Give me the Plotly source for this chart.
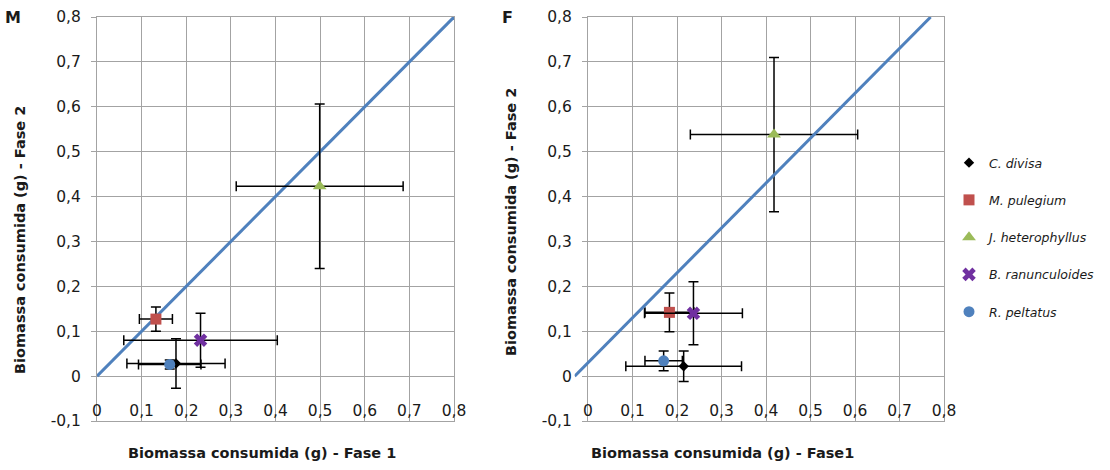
import plotly.graph_objects as go

W, H = 1110, 470

# ---------------- data ----------------
species = ["C. divisa", "M. pulegium", "J. heterophyllus", "B. ranunculoides", "R. peltatus"]
symbols = ["diamond", "square", "triangle-up", "x", "circle"]
colors = ["#000000", "#C0504D", "#9BBB59", "#7030A0", "#4F81BD"]
sizes = [8, 11, 12, 12, 11]

# Panel M (Fase 1 vs Fase 2)
m_x = [0.177, 0.132, 0.499, 0.232, 0.163]
m_y = [0.028, 0.127, 0.423, 0.080, 0.026]
m_ex = [0.110, 0.037, 0.187, 0.172, 0.070]
m_ey = [0.055, 0.027, 0.183, 0.060, 0.010]

# Panel F
f_x = [0.215, 0.183, 0.418, 0.237, 0.170]
f_y = [0.022, 0.142, 0.538, 0.140, 0.034]
f_ex = [0.130, 0.055, 0.188, 0.110, 0.042]
f_ey = [0.034, 0.043, 0.172, 0.070, 0.022]

# reference lines
diag_m_x = [0.0, 0.8]
diag_m_y = [0.0, 0.8]
diag_f_x = [-0.03, 0.77]
diag_f_y = [0.0, 0.8]

x_ticks = [0, 0.1, 0.2, 0.3, 0.4, 0.5, 0.6, 0.7, 0.8]
x_tick_labels = ["0", "0,1", "0,2", "0,3", "0,4", "0,5", "0,6", "0,7", "0,8"]
y_ticks = [-0.1, 0, 0.1, 0.2, 0.3, 0.4, 0.5, 0.6, 0.7, 0.8]
y_tick_labels = ["-0,1", "0", "0,1", "0,2", "0,3", "0,4", "0,5", "0,6", "0,7", "0,8"]

# ---------------- layout helpers ----------------
def px(v):
    return v / W

def py(v):
    return 1 - v / H

FONT = "DejaVu Sans"
GRID = "#a3a3a3"
TXT = "#1a1a1a"
DIAG = "#4F81BD"

m_dom = [px(97), px(454)]
f_dom = [px(588), px(944)]
y_dom = [py(421), py(17)]

fig = go.Figure()

# diagonal lines
fig.add_trace(go.Scatter(x=diag_m_x, y=diag_m_y, mode="lines", xaxis="x", yaxis="y",
                         line=dict(color=DIAG, width=3), showlegend=False, hoverinfo="skip"))

def add_panel(xs, ys, exs, eys, xa, ya, legend):
    for i, name in enumerate(species):
        fig.add_trace(go.Scatter(
            x=[xs[i]], y=[ys[i]], mode="markers", name=name,
            xaxis=xa, yaxis=ya, legendgroup=name, showlegend=legend,
            marker=dict(symbol=symbols[i], color=colors[i], size=sizes[i], line=dict(width=0)),
            error_x=dict(type="data", array=[exs[i]], color="#000000", thickness=1.5, width=5),
            error_y=dict(type="data", array=[eys[i]], color="#000000", thickness=1.5, width=5),
        ))

add_panel(m_x, m_y, m_ex, m_ey, "x", "y", False)
add_panel(f_x, f_y, f_ex, f_ey, "x2", "y2", True)

fig.add_trace(go.Scatter(x=diag_f_x, y=diag_f_y, mode="lines", xaxis="x3", yaxis="y3",
                         line=dict(color=DIAG, width=3), showlegend=False, hoverinfo="skip"))

xrange = [0, 0.8]
yrange = [-0.1, 0.8]

# overlay axis for the F diagonal, same scale as x2 but starting further left
scale = (f_dom[1] - f_dom[0]) / (xrange[1] - xrange[0])
x3_range = [min(diag_f_x), xrange[1]]
x3_dom = [f_dom[0] - (xrange[0] - x3_range[0]) * scale, f_dom[1]]

TICK_SIZE = 15.5

def xaxis(dom, anchor):
    return dict(domain=dom, range=xrange, anchor=anchor, tickmode="array",
                tickvals=x_ticks, ticktext=x_tick_labels, showgrid=True,
                gridcolor=GRID, gridwidth=1, showline=True, mirror=True,
                linecolor=GRID, linewidth=1, ticks="", zeroline=False,
                automargin=False, ticklabelstandoff=-25,
                tickfont=dict(family=FONT, size=TICK_SIZE, color=TXT))

def yaxis(anchor):
    return dict(domain=y_dom, range=yrange, anchor=anchor, tickmode="array",
                tickvals=y_ticks, ticktext=y_tick_labels, showgrid=True,
                gridcolor=GRID, gridwidth=1, showline=True, mirror=True,
                linecolor=GRID, linewidth=1, ticks="outside", ticklen=5,
                tickcolor=GRID, zeroline=False, ticklabelstandoff=7,
                automargin=False,
                tickfont=dict(family=FONT, size=TICK_SIZE, color=TXT))

title_font = dict(family=FONT, size=14.5, color=TXT)

def note(text, x, y, size=None, angle=0):
    f = dict(title_font)
    if size:
        f["size"] = size
    return dict(text=text, x=px(x), y=py(y), xref="paper", yref="paper",
                xanchor="center", yanchor="middle", showarrow=False,
                textangle=angle, font=f)

fig.update_layout(
    width=W, height=H,
    margin=dict(l=0, r=0, t=0, b=0, autoexpand=False),
    paper_bgcolor="white",
    plot_bgcolor="rgba(0,0,0,0)",
    xaxis=xaxis(m_dom, "y"),
    yaxis=yaxis("x"),
    xaxis2=xaxis(f_dom, "y2"),
    yaxis2=yaxis("x2"),
    xaxis3=dict(domain=x3_dom, range=x3_range, anchor="y3", visible=False),
    yaxis3=dict(domain=y_dom, range=yrange, anchor="x3", visible=False),
    showlegend=True,
    legend=dict(x=px(949), y=py(148), xanchor="left", yanchor="top",
                traceorder="grouped", tracegroupgap=18,
                bgcolor="rgba(0,0,0,0)",
                font=dict(family=FONT, size=12.5, color=TXT, style="italic")),
    annotations=[
        note("<b>M</b>", 13, 18, size=16),
        note("<b>F</b>", 507, 17, size=16),
        note("<b>Biomassa consumida (g) - Fase 1</b>", 262, 453),
        note("<b>Biomassa consumida (g) - Fase1</b>", 722, 453),
        note("<b>Biomassa consumida (g) - Fase 2</b>", 20, 240, angle=-90),
        note("<b>Biomassa consumida (g) - Fase 2</b>", 511, 222, angle=-90),
    ],
)

fig.write_html("out.html")
